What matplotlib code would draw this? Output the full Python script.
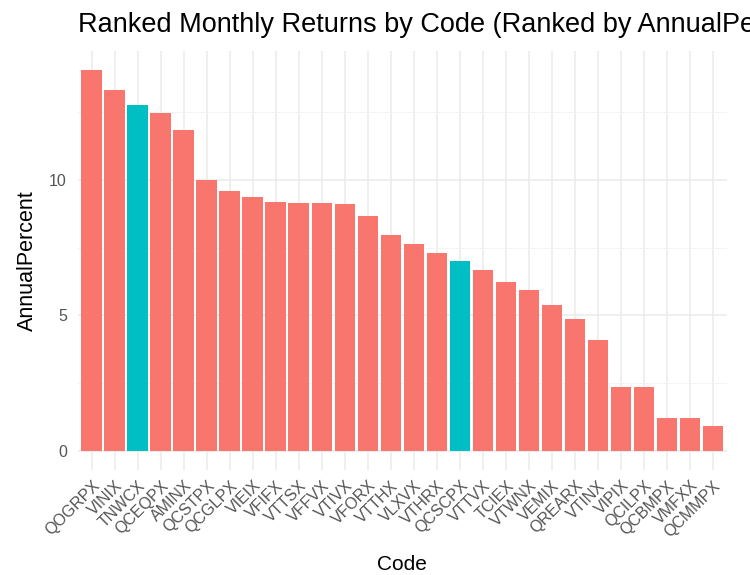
import matplotlib
matplotlib.use("Agg")
import matplotlib.pyplot as plt
from matplotlib.ticker import MultipleLocator

plt.rcParams['font.family'] = ['Liberation Sans', 'DejaVu Sans']

codes = ["QOGRPX", "VINIX", "TNWCX", "QCEQPX", "AMINX", "QCSTPX", "QCGLPX",
         "VIEIX", "VFIFX", "VTTSX", "VFFVX", "VTIVX", "VFORX", "VTTHX",
         "VLXVX", "VTHRX", "QCSCPX", "VTTVX", "TCIEX", "VTWNX", "VEMIX",
         "QREARX", "VTINX", "VIPIX", "QCILPX", "QCBMPX", "VMFXX", "QCMMPX"]
annual_pct = [14.06, 13.32, 12.76, 12.48, 11.85, 10.0, 9.61,
              9.39, 9.2, 9.16, 9.16, 9.1, 8.67, 7.98,
              7.64, 7.29, 7.02, 6.68, 6.22, 5.94, 5.38,
              4.87, 4.1, 2.34, 2.34, 1.21, 1.21, 0.92]
highlight = ["TNWCX", "QCSCPX"]

base_col = "#F8766D"
hi_col = "#00BFC4"
colors = [hi_col if c in highlight else base_col for c in codes]

fig = plt.figure(figsize=(7.5, 5.75), dpi=100)
ax = fig.add_axes([0.104, 0.183, 0.865, 0.728])

x = list(range(1, len(codes) + 1))
ax.bar(x, annual_pct, width=0.9, color=colors, zorder=3)

ymax = max(annual_pct)
ax.set_ylim(-0.05 * ymax, ymax * 1.05)
ax.set_xlim(0.4, len(codes) + 0.6)

ax.yaxis.set_major_locator(MultipleLocator(5))
ax.yaxis.set_minor_locator(MultipleLocator(2.5))
ax.set_xticks(x)
ax.set_xticklabels(codes, rotation=45, ha='right', rotation_mode='anchor')

ax.grid(which='major', color='#EBEBEB', linewidth=1.1, zorder=0)
ax.grid(which='minor', axis='y', color='#F2F2F2', linewidth=0.6, zorder=0)
for s in ax.spines.values():
    s.set_visible(False)
ax.tick_params(which='both', length=0, labelsize=11.5, labelcolor='#555555')
ax.tick_params(axis='x', pad=6)
ax.tick_params(axis='y', pad=8)

ax.set_xlabel("Code", fontsize=15, labelpad=11)
ax.set_ylabel("AnnualPercent", fontsize=15.5, labelpad=8)
# title runs past the right edge, as in the original
ax.set_title("Ranked Monthly Returns by Code (Ranked by AnnualPercent)",
             loc='left', fontsize=19.5, pad=14)

fig.savefig("out.png", dpi=100)
